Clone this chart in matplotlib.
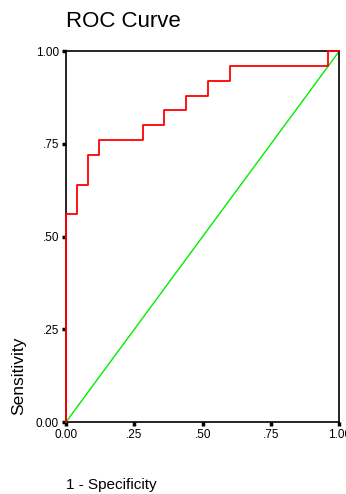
import matplotlib.pyplot as plt

# ROC steps (1 - specificity, sensitivity)
fpr = [0.00, 0.00, 0.04, 0.04, 0.08, 0.08, 0.12, 0.12, 0.28, 0.28, 0.36, 0.36,
       0.44, 0.44, 0.52, 0.52, 0.60, 0.60, 0.96, 0.96, 1.00]
tpr = [0.00, 0.56, 0.56, 0.64, 0.64, 0.72, 0.72, 0.76, 0.76, 0.80, 0.80, 0.84,
       0.84, 0.88, 0.88, 0.92, 0.92, 0.96, 0.96, 1.00, 1.00]
ref_x = [0, 1]
ref_y = [0, 1]

ticks = [0, 0.25, 0.5, 0.75, 1.0]
tick_labels = ['0.00', '.25', '.50', '.75', '1.00']

plt.rcParams['font.family'] = ['Liberation Sans', 'DejaVu Sans']

fig = plt.figure(figsize=(3.46, 4.94), dpi=100)
ax = fig.add_axes([0.1908, 0.1457, 0.790, 0.751])

ax.plot(ref_x, ref_y, color='#00ee00', lw=1.0, zorder=2)
ax.plot(fpr, tpr, color='red', lw=1.3, zorder=3, clip_on=False)

ax.set_xlim(0, 1)
ax.set_ylim(0, 1)
ax.set_xticks(ticks)
ax.set_xticklabels(tick_labels)
ax.set_yticks(ticks)
ax.set_yticklabels(tick_labels)
ax.tick_params(direction='out', length=3, width=2.5, labelsize=8.5, pad=2)
for s in ax.spines.values():
    s.set_linewidth(1.2)

ax.set_title('ROC Curve', loc='left', fontsize=16, pad=17)
ax.set_ylabel('Sensitivity', loc='bottom', fontsize=12.5)
ax.yaxis.set_label_coords(-0.146, 0.019)
ax.set_xlabel('1 - Specificity', loc='left', fontsize=11)
ax.xaxis.set_label_coords(0.0, -0.151)

fig.savefig('out.png', dpi=100)
